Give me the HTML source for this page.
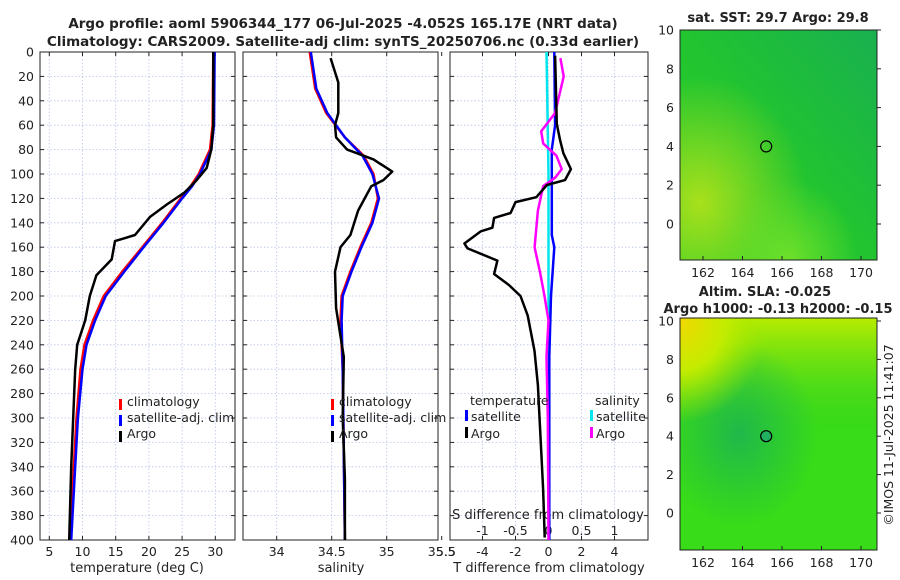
<!DOCTYPE html>
<html><head><meta charset="utf-8"><style>
html,body{margin:0;padding:0;background:#fff;width:900px;height:580px;overflow:hidden}
svg text{font-family:"DejaVu Sans","Liberation Sans",sans-serif;fill:#222}
</style></head><body>
<svg id="fig" width="900" height="580" viewBox="0 0 900 580" xmlns="http://www.w3.org/2000/svg">
<defs>
<radialGradient id="sstYel" cx="0.1" cy="0.75" r="0.55"><stop offset="0" stop-color="#a8e01c"/><stop offset="1" stop-color="#a8e01c" stop-opacity="0"/></radialGradient>
<radialGradient id="sstBot" cx="0.55" cy="1" r="0.35"><stop offset="0" stop-color="#6ee02a"/><stop offset="1" stop-color="#6ee02a" stop-opacity="0"/></radialGradient>
<linearGradient id="sstBase" x1="1" y1="0" x2="0" y2="1"><stop offset="0" stop-color="#18b050"/><stop offset="0.5" stop-color="#22c430"/><stop offset="1" stop-color="#2ad028"/></linearGradient>
<radialGradient id="slaYel" cx="0" cy="0" r="0.45"><stop offset="0" stop-color="#f2d800"/><stop offset="0.5" stop-color="#c4ec00"/><stop offset="1" stop-color="#9fe600" stop-opacity="0"/></radialGradient>
<linearGradient id="slaTop" x1="0" y1="0" x2="0" y2="1"><stop offset="0" stop-color="#b8ec00"/><stop offset="0.3" stop-color="#5cdc18" stop-opacity="0.6"/><stop offset="0.5" stop-color="#3cd020" stop-opacity="0"/></linearGradient>
<radialGradient id="slaDark" cx="0.3" cy="0.5" r="0.4"><stop offset="0" stop-color="#20b84a"/><stop offset="1" stop-color="#20b84a" stop-opacity="0"/></radialGradient>
</defs>
<g id="g"></g>
</svg>
<script>
// ---- data ----
const depthTempArgo = [0,60,80,95,105,115,125,135,150,155,170,183,200,220,240,260,300,340,400];
const tempArgo      = [29.7,29.7,29.4,28.7,27.2,25.4,22.7,20.2,17.9,14.9,14.4,12.1,11.1,10.4,9.2,8.9,8.6,8.3,8.0];
const depthClim     = [0,60,80,100,110,120,140,160,180,200,220,240,260,300,350,400];
const tempClim      = [29.7,29.6,29.2,27.5,26.3,24.8,22.0,19.0,16.0,13.2,11.6,10.3,9.7,9.1,8.6,8.2];
const tempSat       = [29.9,29.8,29.4,27.7,26.5,25.0,22.2,19.2,16.3,13.5,11.9,10.6,10.0,9.3,8.8,8.3];
const depthSalArgo  = [5,25,50,60,70,80,88,98,105,110,130,150,160,180,210,250,300,350,400];
const salArgo       = [34.49,34.56,34.56,34.53,34.54,34.64,34.88,35.05,34.97,34.86,34.74,34.67,34.58,34.53,34.54,34.61,34.6,34.62,34.62];
const depthSalClim  = [0,30,50,70,85,100,120,140,160,180,200,220,260,400];
const salClim       = [34.30,34.35,34.45,34.62,34.79,34.88,34.92,34.86,34.76,34.67,34.59,34.58,34.6,34.62];
const salSat        = [34.31,34.36,34.46,34.62,34.78,34.87,34.93,34.87,34.77,34.68,34.6,34.59,34.6,34.62];
const depthTd  = [3,59,72,83,96,105,109,119,123,132,136,144,147,157,161,171,182,191,200,216,245,273,301,330,358,398];
const tdArgo   = [0.4,0.5,0.7,0.9,1.36,1.0,-0.1,-0.74,-2.0,-2.3,-3.3,-3.4,-4.1,-5.1,-4.9,-3.1,-3.3,-2.4,-1.7,-1.26,-0.85,-0.64,-0.54,-0.43,-0.33,-0.23];
const depthTdSat = [0,60,80,120,150,160,200,250,300,400];
const tdSat      = [0.35,0.4,0.2,0.2,0.2,0.35,0.15,0.05,0.05,0.05];
const depthSd  = [5,20,50,65,75,85,96,103,110,130,160,180,200,220,250,300,400];
const sdArgo   = [0.18,0.23,0.1,-0.11,-0.08,0.12,0.2,0.1,-0.08,-0.16,-0.21,-0.13,-0.06,0,-0.03,-0.01,0.0];
const depthSdSat = [0,100,200,400];
const sdSat      = [-0.03,0.0,0.0,0.01];
const depthTicks = [0,20,40,60,80,100,120,140,160,180,200,220,240,260,280,300,320,340,360,380,400];
const tempTicks = [5,10,15,20,25,30];
const salTicks = [34,34.5,35,35.5];
const tdTicks = [-4,-2,0,2,4];
const sdTicks = [-1,-0.5,0,0.5,1];
const lonTicks = [162,164,166,168,170];
const latTicks = [0,2,4,6,8,10];
const floatLon = 165.2, floatLat = 4.0;

// ---- helpers ----
const NS='http://www.w3.org/2000/svg';
const G=document.getElementById('g');
function mk(tag,attrs,parent,txt){const e=document.createElementNS(NS,tag);for(const k in attrs)e.setAttribute(k,attrs[k]);if(txt!==undefined)e.textContent=txt;(parent||G).appendChild(e);return e;}
const Y0=52,Y1=540;
const yD=d=>Y0+d/400*(Y1-Y0);
function lin(d0,d1,r0,r1){return v=>r0+(v-d0)/(d1-d0)*(r1-r0);}
const xT=lin(5,30,49.3,215.3);
const xS=lin(34,35,276.7,386.7);
const xTd=lin(0,2,548.5,581.5);
const xSd=lin(0,1,548.5,614.5);

function panel(name,x0,x1,xs,ticks,fmt,labelTicks){
  const p=mk('g',{},G);
  
  
  for(const d of depthTicks){ if(d>0&&d<400) mk('line',{x1:x0,x2:x1,y1:yD(d),y2:yD(d),stroke:'#b8c4e8','stroke-width':0.8,'stroke-dasharray':'1.5,2'},p);}
  for(const t of ticks){const x=xs(t); if(x>x0&&x<x1) mk('line',{x1:x,x2:x,y1:Y0,y2:Y1,stroke:'#b8c4e8','stroke-width':0.8,'stroke-dasharray':'1.5,2'},p);}
  for(const d of depthTicks){mk('line',{x1:x0,x2:x0+4,y1:yD(d),y2:yD(d),stroke:'#222'},p);mk('line',{x1:x1-4,x2:x1,y1:yD(d),y2:yD(d),stroke:'#222'},p);}
  for(const t of ticks){const x=xs(t);mk('line',{x1:x,x2:x,y1:Y1,y2:Y1-4,stroke:'#222'},p);mk('line',{x1:x,x2:x,y1:Y0,y2:Y0+4,stroke:'#222'},p);
    if(labelTicks){const l=mk('text',{x:x,y:556,'font-size':12.5,'text-anchor':'middle'},p,fmt(t));
      
      }}
  mk('rect',{x:x0,y:Y0,width:x1-x0,height:Y1-Y0,fill:'none',stroke:'#222','stroke-width':1},p);
  return p;
}
function line(p,xs,vals,depths,color,name,w){
  const pts=vals.map((v,i)=>xs(v).toFixed(1)+','+yD(depths[i]).toFixed(1)).join(' ');
  const e=mk('polyline',{points:pts,fill:'none',stroke:color,'stroke-width':w||2.5,'stroke-linejoin':'round'},p);
  
  
}
function txt(s,x,y,size,anchor,name,bold,parent){
  const e=mk('text',{x:x,y:y,'font-size':size,'text-anchor':anchor||'start','font-weight':bold?'bold':'normal'},parent||G,s);
  
  
  return e;
}
function legendMark(p,x,y,color){mk('rect',{x:x,y:y-11,width:3,height:11,fill:color},p);}

// titles
txt('Argo profile: aoml 5906344_177 06-Jul-2025 -4.052S 165.17E (NRT data)',343,28,13.5,'middle','title-line-1',true);
txt('Climatology: CARS2009. Satellite-adj clim: synTS_20250706.nc (0.33d earlier)',343,46,13.5,'middle','title-line-2',true);

// y tick labels
for(const d of depthTicks){const e=txt(String(d),34,yD(d)+4.5,12.5,'end','y-tick-label');}

// panel 1 temperature
const p1=panel('temperature-panel',40,235,xT,tempTicks,String,true);
line(p1,xT,tempClim,depthClim,'#ff0000','climatology-temp-line');
line(p1,xT,tempSat,depthClim,'#0000ff','satellite-temp-line');
line(p1,xT,tempArgo,depthTempArgo,'#000','argo-temp-line');
legendMark(p1,119,410,'#ff0000');txt('climatology',127,406,12.5,'start','legend-climatology',false,p1);
legendMark(p1,119,426,'#0000ff');txt('satellite-adj. clim',127,422,12.5,'start','legend-satellite',false,p1);
legendMark(p1,119,442,'#000');txt('Argo',127,438,12.5,'start','legend-argo',false,p1);
txt('temperature (deg C)',137,572,13,'middle','x-axis-title-temperature');

// panel 2 salinity
const p2=panel('salinity-panel',243,438,xS,salTicks,String,true);
line(p2,xS,salClim,depthSalClim,'#ff0000','climatology-sal-line');
line(p2,xS,salSat,depthSalClim,'#0000ff','satellite-sal-line');
line(p2,xS,salArgo,depthSalArgo,'#000','argo-sal-line');
legendMark(p2,331,410,'#ff0000');txt('climatology',339,406,12.5,'start','legend-climatology',false,p2);
legendMark(p2,331,426,'#0000ff');txt('satellite-adj. clim',339,422,12.5,'start','legend-satellite',false,p2);
legendMark(p2,331,442,'#000');txt('Argo',339,438,12.5,'start','legend-argo',false,p2);
txt('salinity',341,572,13,'middle','x-axis-title-salinity');

// panel 3 differences
const p3=panel('difference-panel',450,648,xTd,tdTicks,String,true);
for(const t of sdTicks){txt(String(t),xSd(t),535,12.5,'middle','s-diff-tick-label',false,p3);}
txt('S difference from climatology',548,519,13,'middle','s-diff-axis-title',false,p3);
line(p3,xSd,sdSat,depthSdSat,'#00e5ee','satellite-sal-diff-line');
line(p3,xTd,tdSat,depthTdSat,'#0000ff','satellite-temp-diff-line');
line(p3,xSd,sdArgo,depthSd,'#ff00ff','argo-sal-diff-line');
line(p3,xTd,tdArgo,depthTd,'#000','argo-temp-diff-line');
txt('temperature',470,405,12.5,'start','legend-temperature-header',false,p3);
txt('salinity',595,405,12.5,'start','legend-salinity-header',false,p3);
legendMark(p3,465,421,'#0000ff');txt('satellite',471,421,12.5,'start','legend-temp-satellite',false,p3);
legendMark(p3,465,438,'#000');txt('Argo',471,438,12.5,'start','legend-temp-argo',false,p3);
legendMark(p3,590,421,'#00e5ee');txt('satellite',596,421,12.5,'start','legend-sal-satellite',false,p3);
legendMark(p3,590,438,'#ff00ff');txt('Argo',596,438,12.5,'start','legend-sal-argo',false,p3);
txt('T difference from climatology',549,572,13,'middle','x-axis-title-t-diff');
txt('5.5',446,556,12.5,'middle','x-tick-label-clip');

// maps
function map(name,top,bot,lat10y,lat0y,kind){
  const m=mk('g',{},G);
  
  
  const x0=680,x1=877;
  const xL=lin(162,170,703,861), yL=lin(0,10,lat0y,lat10y);
  if(kind==='sst'){
    mk('rect',{x:x0,y:top,width:x1-x0,height:bot-top,fill:'url(#sstBase)'},m);
    mk('rect',{x:x0,y:top,width:x1-x0,height:bot-top,fill:'url(#sstYel)'},m);
    mk('rect',{x:x0,y:top,width:x1-x0,height:bot-top,fill:'url(#sstBot)'},m);
  } else {
    mk('rect',{x:x0,y:top,width:x1-x0,height:bot-top,fill:'#38dc18'},m);
    mk('rect',{x:x0,y:top,width:x1-x0,height:bot-top,fill:'url(#slaTop)'},m);
    mk('rect',{x:x0,y:top,width:x1-x0,height:bot-top,fill:'url(#slaDark)'},m);
    mk('rect',{x:x0,y:top,width:x1-x0,height:bot-top,fill:'url(#slaYel)'},m);
  }
  for(const t of lonTicks){const x=xL(t);mk('line',{x1:x,x2:x,y1:bot,y2:bot-4,stroke:'#222'},m);
    txt(String(t),x,bot+17,12.5,'middle','lon-tick-label',false,m);}
  for(const t of latTicks){const y=yL(t);mk('line',{x1:x1,x2:x1+4,y1:y,y2:y,stroke:'#222'},m);
    txt(String(t),x0-6,y+4.5,12.5,'end','lat-tick-label',false,m);}
  mk('rect',{x:x0,y:top,width:x1-x0,height:bot-top,fill:'none',stroke:'#222'},m);
  const c=mk('circle',{cx:xL(floatLon),cy:yL(floatLat),r:5.5,fill:kind==='sla'?'#20b060':'none',stroke:'#000','stroke-width':1.2},m);
  
  
}
map('sst-map',30,260,30,224,'sst');
txt('sat. SST: 29.7 Argo: 29.8',778,22,13,'middle','sst-map-title',true);
map('sla-map',318,550,321,513,'sla');
txt('Altim. SLA: -0.025',765,296,13,'middle','sla-map-title-1',true);
txt('Argo h1000: -0.13 h2000: -0.15',778,313,13,'middle','sla-map-title-2',true);
const cr=txt('©IMOS 11-Jul-2025 11:41:07',0,0,12.5,'middle','copyright-timestamp');
cr.setAttribute('transform','translate(893,435) rotate(-90)');
</script>
</body></html>
